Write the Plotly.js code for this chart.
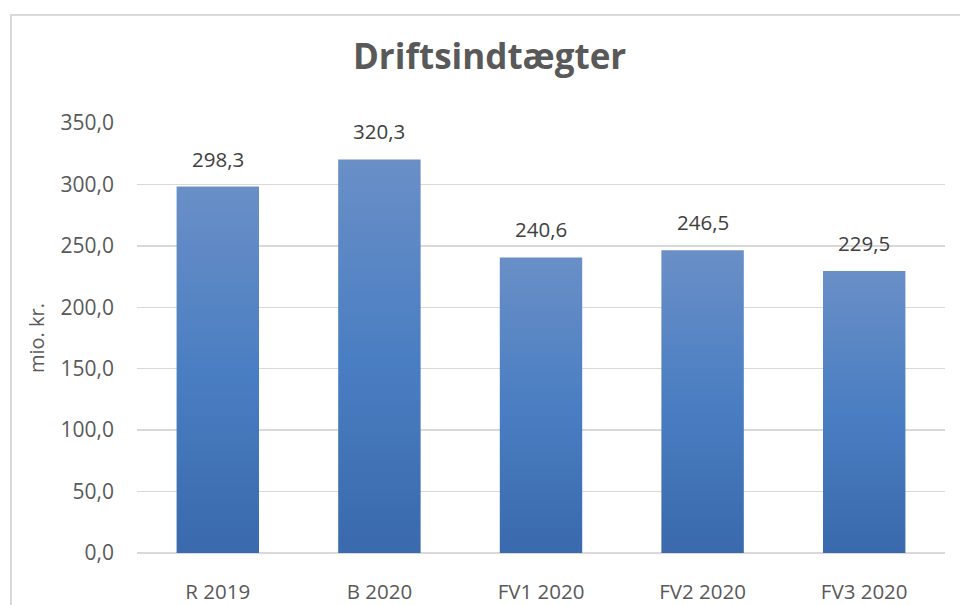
<!DOCTYPE html>
<html>
<head>
<meta charset="utf-8">
<script src="https://cdn.plot.ly/plotly-3.0.1.min.js"></script>
<style>
html,body{margin:0;padding:0;background:#fff;}
#chart{width:960px;height:605px;}
</style>
</head>
<body>
<div id="chart"></div>
<script>
var categories = ["R 2019", "B 2020", "FV1 2020", "FV2 2020", "FV3 2020"];
var values = [298.3, 320.3, 240.6, 246.5, 229.5];
var tickValues = [0, 50, 100, 150, 200, 250, 300, 350];
var tickLabels = ["0,0", "50,0", "100,0", "150,0", "200,0", "250,0", "300,0", "350,0"];

function fmt(v){ return v.toFixed(1).replace(".", ","); }

var font = "'Open Sans', 'Noto Sans', sans-serif";

var trace = {
  type: "bar",
  x: categories,
  y: values,
  marker: {color: "#4f7fc0", line: {width: 0}},
  hoverinfo: "none"
};

var annotations = categories.map(function(c, i){
  return {
    x: c, y: values[i], xref: "x", yref: "y",
    text: fmt(values[i]), showarrow: false,
    yanchor: "bottom", yshift: 12,
    font: {family: font, size: 20.5, color: "#404040"}
  };
});

var layout = {
  width: 960, height: 605,
  margin: {l: 137, r: 15, t: 123, b: 52},
  paper_bgcolor: "#ffffff",
  plot_bgcolor: "#ffffff",
  showlegend: false,
  bargap: 0.49,
  title: {
    text: "<b>Driftsindtægter</b>",
    font: {family: font, size: 35, color: "#595959"},
    x: 0.51, xref: "container", xanchor: "center",
    y: 0.906, yref: "container", yanchor: "middle"
  },
  xaxis: {
    type: "category",
    showgrid: false, zeroline: false, showline: false,
    ticks: "",
    tickfont: {family: font, size: 20.5, color: "#595959"},
    ticklabelstandoff: 24
  },
  yaxis: {
    range: [0, 350],
    tickvals: tickValues,
    ticktext: tickLabels,
    showgrid: true, gridcolor: "#d9d9d9", gridwidth: 1.5,
    zeroline: true, zerolinecolor: "#d9d9d9", zerolinewidth: 1.5,
    showline: false, ticks: "",
    tickfont: {family: font, size: 21, color: "#595959"},
    ticklabelstandoff: 22,
    title: {text: "mio. kr.", font: {family: font, size: 20, color: "#595959"}, standoff: 10}
  },
  annotations: annotations,
  shapes: [{
    type: "rect", xref: "paper", yref: "paper",
    x0: -0.156, x1: 1.2, y0: -0.3, y1: 1.251,
    line: {color: "#d9d9d9", width: 2}, fillcolor: "rgba(0,0,0,0)", layer: "below"
  }]
};

Plotly.newPlot("chart", [trace], layout, {displayModeBar: false, staticPlot: true}).then(function(gd){
  var svg = gd.querySelector("svg.main-svg");
  var ns = "http://www.w3.org/2000/svg";
  var defs = svg.querySelector("defs") || svg.insertBefore(document.createElementNS(ns, "defs"), svg.firstChild);
  var g = document.createElementNS(ns, "linearGradient");
  g.setAttribute("id", "barGrad");
  g.setAttribute("x1", "0"); g.setAttribute("y1", "0");
  g.setAttribute("x2", "0"); g.setAttribute("y2", "1");
  [["0", "#6a8fc7"], ["0.5", "#4a7ec2"], ["1", "#3a69ad"]].forEach(function(s){
    var st = document.createElementNS(ns, "stop");
    st.setAttribute("offset", s[0]); st.setAttribute("stop-color", s[1]);
    g.appendChild(st);
  });
  defs.appendChild(g);
  gd.querySelectorAll(".bars .point path").forEach(function(p){
    p.style.fill = "url(#barGrad)";
  });
});
</script>
</body>
</html>
